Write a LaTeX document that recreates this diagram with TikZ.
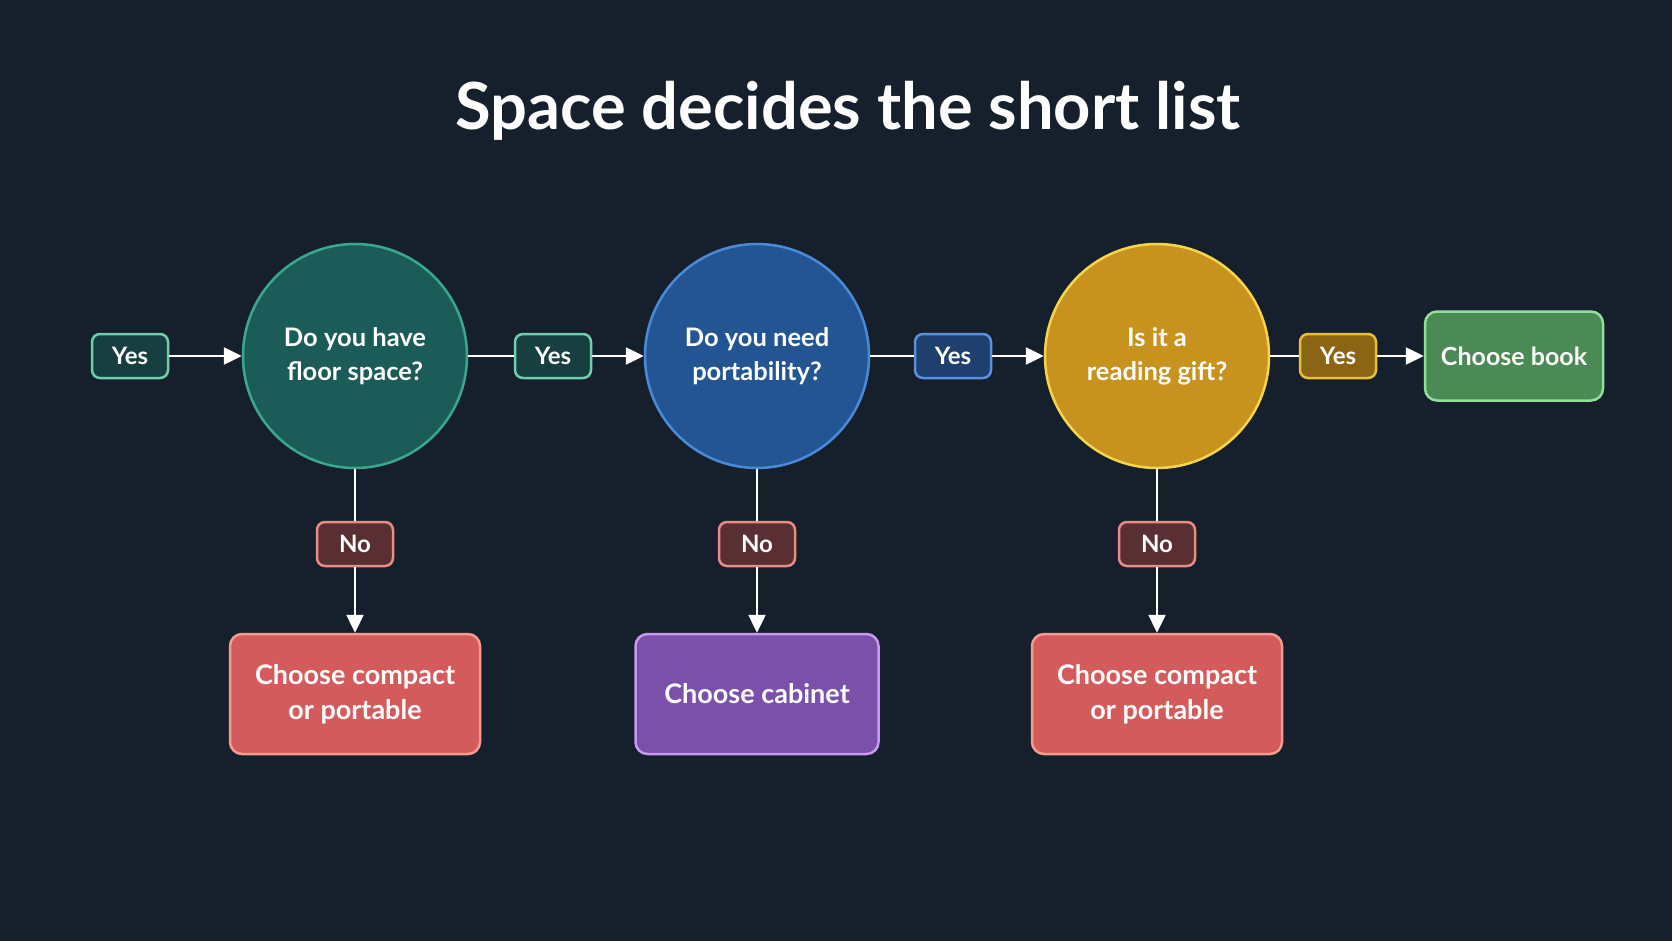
\documentclass[tikz,border=0pt]{standalone}
\usepackage{fontspec}
\setmainfont{Lato}
\usetikzlibrary{arrows.meta}
\definecolor{bg}{HTML}{16202C}
\definecolor{tealF}{HTML}{1B5B58}\definecolor{tealB}{HTML}{3AA88F}
\definecolor{tyF}{HTML}{173F3F}\definecolor{tyB}{HTML}{6FCFAC}
\definecolor{blueF}{HTML}{235592}\definecolor{blueB}{HTML}{4A8AD8}
\definecolor{byF}{HTML}{1F3F6F}\definecolor{byB}{HTML}{5A90E0}
\definecolor{goldF}{HTML}{C8921F}\definecolor{goldB}{HTML}{F5D54A}
\definecolor{gyF}{HTML}{8B6414}\definecolor{gyB}{HTML}{E8C038}
\definecolor{bookF}{HTML}{4B8A55}\definecolor{bookB}{HTML}{90E09A}
\definecolor{noF}{HTML}{5A2F34}\definecolor{noB}{HTML}{E88C84}
\definecolor{redF}{HTML}{D45B5B}\definecolor{redB}{HTML}{F59A90}
\definecolor{purF}{HTML}{7B50AA}\definecolor{purB}{HTML}{C79AF0}
\tikzset{
  base/.style={text=white,font=\fontsize{24}{33}\selectfont\bfseries,align=center,line width=2.5pt,inner sep=0pt},
  qcircle/.style={base,circle,minimum size=224pt,font=\fontsize{25.5}{34}\selectfont\bfseries},
  lab/.style={base,rounded corners=8pt,minimum width=76pt,minimum height=44pt},
  outbox/.style={base,rounded corners=12pt,font=\fontsize{27}{35}\selectfont\bfseries},
  conn/.style={white,line width=2.5pt},
  arr/.style={conn,-{Triangle[length=18pt,width=17pt]}}
}
\begin{document}
\begin{tikzpicture}[x=1pt,y=1pt]
\fill[bg] (0,0) rectangle (1672,-941);
\useasboundingbox (0,0) rectangle (1672,-941);
\node[text=white,font=\fontsize{65}{70}\selectfont\bfseries] (title) at (848,-111) {Space decides the short list};
% question circles
\node[qcircle,fill=tealF,draw=tealB] (q1) at (355,-356) {Do you have\\floor space?};
\node[qcircle,fill=blueF,draw=blueB] (q2) at (757,-356) {Do you need\\portability?};
\node[qcircle,fill=goldF,draw=goldB] (q3) at (1157,-356) {Is it a\\reading gift?};
% yes labels
\node[lab,fill=tyF,draw=tyB] (y0) at (130,-356) {Yes};
\node[lab,fill=tyF,draw=tyB] (y1) at (553,-356) {Yes};
\node[lab,fill=byF,draw=byB] (y2) at (953,-356) {Yes};
\node[lab,fill=gyF,draw=gyB] (y3) at (1338,-356) {Yes};
% no labels
\node[lab,fill=noF,draw=noB] (n1) at (355,-544) {No};
\node[lab,fill=noF,draw=noB] (n2) at (757,-544) {No};
\node[lab,fill=noF,draw=noB] (n3) at (1157,-544) {No};
% outcomes
\node[outbox,fill=bookF,draw=bookB,minimum width=178pt,minimum height=89pt,font=\fontsize{25}{33}\selectfont\bfseries] (book) at (1514,-356) {Choose book};
\node[outbox,fill=redF,draw=redB,minimum width=250pt,minimum height=120pt] (o1) at (355,-694) {Choose compact\\or portable};
\node[outbox,fill=purF,draw=purB,minimum width=243pt,minimum height=120pt] (o2) at (757,-694) {Choose cabinet};
\node[outbox,fill=redF,draw=redB,minimum width=250pt,minimum height=120pt] (o3) at (1157,-694) {Choose compact\\or portable};
% connectors
\draw[arr] (y0) -- (q1);
\draw[conn] (q1) -- (y1);
\draw[arr] (y1) -- (q2);
\draw[conn] (q2) -- (y2);
\draw[arr] (y2) -- (q3);
\draw[conn] (q3) -- (y3);
\draw[arr] (y3) -- (book);
\draw[conn] (q1) -- (n1);
\draw[arr] (n1) -- (o1);
\draw[conn] (q2) -- (n2);
\draw[arr] (n2) -- (o2);
\draw[conn] (q3) -- (n3);
\draw[arr] (n3) -- (o3);
\end{tikzpicture}
\end{document}
